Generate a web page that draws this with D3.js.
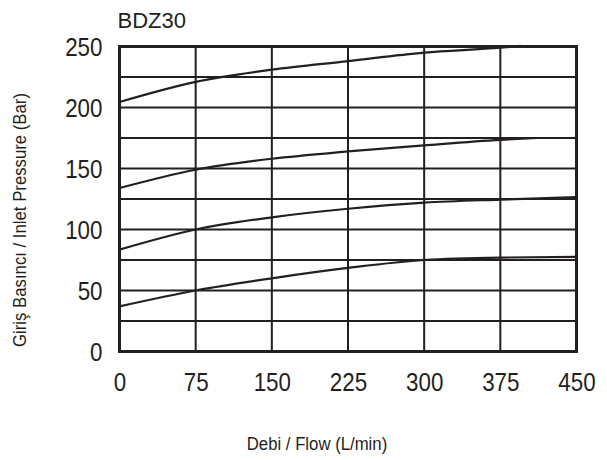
<!DOCTYPE html>
<html><head><meta charset="utf-8">
<script src="https://cdn.jsdelivr.net/npm/d3@7"></script>
<style>
body{margin:0;background:#fff;}
text{font-family:"Liberation Sans",Arial,sans-serif;fill:#231f20;}
</style></head>
<body><svg id="c" width="607" height="460"></svg>
<script>
const title = "BDZ30";
const xTicks = [0,75,150,225,300,375,450];
const yTicks = [0,50,100,150,200,250];
const yGrid = [0,25,50,75,100,125,150,175,200,225,250];
const flow1 = [0,75,150,225,300,375,395];
const pres1 = [204.5,221,231,238,245,249,250.5];
const flow2 = [0,75,150,225,300,375,412];
const pres2 = [134,149,158,164,169,173.5,175];
const flow3 = [0,75,150,225,300,375,450];
const pres3 = [83.5,100,110,117,122,124.5,126.5];
const flow4 = [0,75,150,225,300,375,450];
const pres4 = [37,50,60,68.5,75,77,77.5];
const xLabel = "Debi / Flow (L/min)";
const yLabel = "Giriş Basıncı / Inlet Pressure (Bar)";

const L=119.5, R=576.5, T=46.5, B=351.5;
const svg = d3.select("#c");
const x = d3.scaleLinear().domain([0,450]).range([L,R]);
const y = d3.scaleLinear().domain([0,250]).range([B,T]);
const ink = "#231f20";

function narrow(sel, k){
  sel.each(function(){
    const w = this.getComputedTextLength();
    d3.select(this).attr("textLength", w*k).attr("lengthAdjust","spacingAndGlyphs");
  });
}

// grid
svg.append("g").selectAll("line").data(yGrid).join("line")
  .attr("x1",L).attr("x2",R).attr("y1",d=>y(d)).attr("y2",d=>y(d))
  .attr("stroke",ink).attr("stroke-width",2);
svg.append("g").selectAll("line").data(xTicks).join("line")
  .attr("y1",T).attr("y2",B).attr("x1",d=>x(d)).attr("x2",d=>x(d))
  .attr("stroke",ink).attr("stroke-width",2);
svg.append("rect").attr("x",L).attr("y",T).attr("width",R-L).attr("height",B-T)
  .attr("fill","none").attr("stroke",ink).attr("stroke-width",3);

// axes labels
const ya = svg.append("g").attr("transform",`translate(${L},0)`)
  .call(d3.axisLeft(y).tickValues(yTicks).tickSize(0).tickPadding(17).tickFormat(d3.format("d")));
ya.select(".domain").remove();
ya.selectAll("text").attr("font-size",26).attr("dy","0.36em").style("font-family",null);
const xa = svg.append("g").attr("transform",`translate(0,${B})`)
  .call(d3.axisBottom(x).tickValues(xTicks).tickSize(0).tickPadding(21).tickFormat(d3.format("d")));
xa.select(".domain").remove();
xa.selectAll("text").attr("font-size",26).style("font-family",null);
svg.selectAll(".tick text").attr("fill",ink).call(narrow,0.86);

// curves
const series = [[flow1,pres1],[flow2,pres2],[flow3,pres3],[flow4,pres4]];
const line = d3.line().x(d=>x(d[0])).y(d=>y(d[1])).curve(d3.curveMonotoneX);
series.forEach(([f,p])=>{
  svg.append("path").datum(f.map((v,i)=>[v,p[i]]))
    .attr("d",line).attr("fill","none").attr("stroke",ink).attr("stroke-width",2.2);
});

svg.append("text").attr("x",L-2).attr("y",28).attr("font-size",22).text(title);
svg.append("text").attr("x",(L+R)/2-31).attr("y",450).attr("text-anchor","middle")
  .attr("font-size",18).text(xLabel).call(narrow,0.93);
svg.append("text").attr("transform",`translate(26,220) rotate(-90)`).attr("text-anchor","middle")
  .attr("font-size",18).text(yLabel).call(narrow,0.93);
</script></body></html>
